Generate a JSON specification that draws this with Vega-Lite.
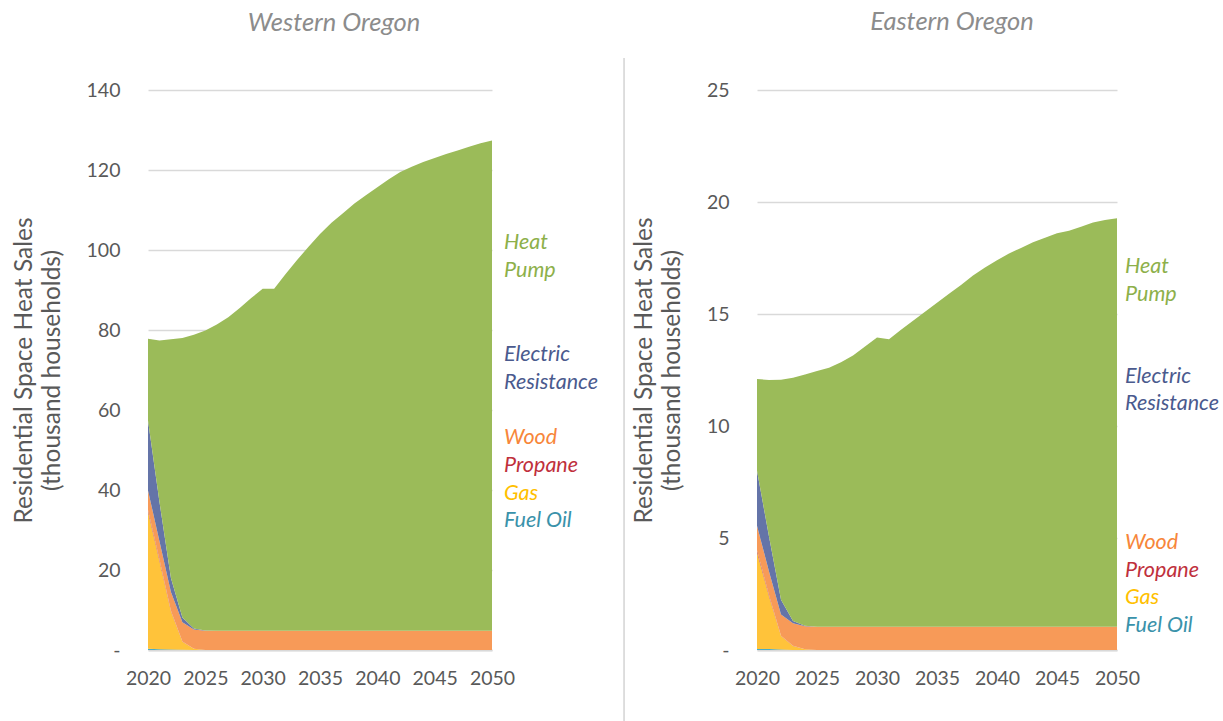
{
  "$schema": "https://vega.github.io/schema/vega-lite/v6.json",
  "background": "white",
  "padding": {"left": 11, "top": 9, "right": 5, "bottom": 0},
  "config": {
    "view": {"stroke": null},
    "font": "Lato",
    "concat": {"spacing": 265},
    "axis": {"labelFont": "Lato", "labelFontSize": 19.5, "labelColor": "#595959", "titleFont": "Lato", "titleFontSize": 24.5, "titleColor": "#595959", "titleFontWeight": "normal", "ticks": false, "domain": false, "grid": false},
    "axisY": {"grid": true, "gridColor": "#000000", "gridOpacity": 0.15, "gridWidth": 1.5, "labelPadding": 28, "zindex": 1, "titlePadding": 22, "titleLineHeight": 28},
    "axisX": {"domain": true, "domainColor": "#d9d9d9", "domainWidth": 2, "labelPadding": 19, "labelFlush": false, "labelOverlap": false},
    "title": {"font": "Lato", "fontSize": 25.5, "fontStyle": "italic", "fontWeight": "normal", "color": "#8c8c8c"}
  },
  "datasets": {
    "fuels": [
      {"fuel": "Fuel Oil", "rank": 1},
      {"fuel": "Gas", "rank": 2},
      {"fuel": "Propane", "rank": 3},
      {"fuel": "Wood", "rank": 4},
      {"fuel": "Electric Resistance", "rank": 5},
      {"fuel": "Heat Pump", "rank": 6}
    ],
    "west": [
      {"year": 2020, "Fuel Oil": 0.3, "Gas": 34.2, "Propane": 0.5, "Wood": 4.9, "Electric Resistance": 17.5, "Heat Pump": 20.4},
      {"year": 2021, "Fuel Oil": 0.2, "Gas": 22.0, "Propane": 0.4, "Wood": 4.6, "Electric Resistance": 9.8, "Heat Pump": 40.4},
      {"year": 2022, "Fuel Oil": 0.1, "Gas": 9.5, "Propane": 0.2, "Wood": 4.7, "Electric Resistance": 3.5, "Heat Pump": 59.7},
      {"year": 2023, "Fuel Oil": 0.05, "Gas": 2.0, "Propane": 0.1, "Wood": 4.8, "Electric Resistance": 1.2, "Heat Pump": 69.85},
      {"year": 2024, "Fuel Oil": 0, "Gas": 0.3, "Propane": 0, "Wood": 4.8, "Electric Resistance": 0.3, "Heat Pump": 73.4},
      {"year": 2025, "Fuel Oil": 0, "Gas": 0, "Propane": 0, "Wood": 4.8, "Electric Resistance": 0.05, "Heat Pump": 75.05},
      {"year": 2026, "Fuel Oil": 0, "Gas": 0, "Propane": 0, "Wood": 4.8, "Electric Resistance": 0, "Heat Pump": 76.6},
      {"year": 2027, "Fuel Oil": 0, "Gas": 0, "Propane": 0, "Wood": 4.8, "Electric Resistance": 0, "Heat Pump": 78.4},
      {"year": 2028, "Fuel Oil": 0, "Gas": 0, "Propane": 0, "Wood": 4.8, "Electric Resistance": 0, "Heat Pump": 80.7},
      {"year": 2029, "Fuel Oil": 0, "Gas": 0, "Propane": 0, "Wood": 4.8, "Electric Resistance": 0, "Heat Pump": 83.2},
      {"year": 2030, "Fuel Oil": 0, "Gas": 0, "Propane": 0, "Wood": 4.8, "Electric Resistance": 0, "Heat Pump": 85.5},
      {"year": 2031, "Fuel Oil": 0, "Gas": 0, "Propane": 0, "Wood": 4.8, "Electric Resistance": 0, "Heat Pump": 85.5},
      {"year": 2032, "Fuel Oil": 0, "Gas": 0, "Propane": 0, "Wood": 4.8, "Electric Resistance": 0, "Heat Pump": 89.2},
      {"year": 2033, "Fuel Oil": 0, "Gas": 0, "Propane": 0, "Wood": 4.8, "Electric Resistance": 0, "Heat Pump": 92.7},
      {"year": 2034, "Fuel Oil": 0, "Gas": 0, "Propane": 0, "Wood": 4.8, "Electric Resistance": 0, "Heat Pump": 96.0},
      {"year": 2035, "Fuel Oil": 0, "Gas": 0, "Propane": 0, "Wood": 4.8, "Electric Resistance": 0, "Heat Pump": 99.2},
      {"year": 2036, "Fuel Oil": 0, "Gas": 0, "Propane": 0, "Wood": 4.8, "Electric Resistance": 0, "Heat Pump": 102.0},
      {"year": 2037, "Fuel Oil": 0, "Gas": 0, "Propane": 0, "Wood": 4.8, "Electric Resistance": 0, "Heat Pump": 104.4},
      {"year": 2038, "Fuel Oil": 0, "Gas": 0, "Propane": 0, "Wood": 4.8, "Electric Resistance": 0, "Heat Pump": 106.8},
      {"year": 2039, "Fuel Oil": 0, "Gas": 0, "Propane": 0, "Wood": 4.8, "Electric Resistance": 0, "Heat Pump": 108.9},
      {"year": 2040, "Fuel Oil": 0, "Gas": 0, "Propane": 0, "Wood": 4.8, "Electric Resistance": 0, "Heat Pump": 110.9},
      {"year": 2041, "Fuel Oil": 0, "Gas": 0, "Propane": 0, "Wood": 4.8, "Electric Resistance": 0, "Heat Pump": 112.9},
      {"year": 2042, "Fuel Oil": 0, "Gas": 0, "Propane": 0, "Wood": 4.8, "Electric Resistance": 0, "Heat Pump": 114.7},
      {"year": 2043, "Fuel Oil": 0, "Gas": 0, "Propane": 0, "Wood": 4.8, "Electric Resistance": 0, "Heat Pump": 116.0},
      {"year": 2044, "Fuel Oil": 0, "Gas": 0, "Propane": 0, "Wood": 4.8, "Electric Resistance": 0, "Heat Pump": 117.2},
      {"year": 2045, "Fuel Oil": 0, "Gas": 0, "Propane": 0, "Wood": 4.8, "Electric Resistance": 0, "Heat Pump": 118.2},
      {"year": 2046, "Fuel Oil": 0, "Gas": 0, "Propane": 0, "Wood": 4.8, "Electric Resistance": 0, "Heat Pump": 119.2},
      {"year": 2047, "Fuel Oil": 0, "Gas": 0, "Propane": 0, "Wood": 4.8, "Electric Resistance": 0, "Heat Pump": 120.1},
      {"year": 2048, "Fuel Oil": 0, "Gas": 0, "Propane": 0, "Wood": 4.8, "Electric Resistance": 0, "Heat Pump": 121.0},
      {"year": 2049, "Fuel Oil": 0, "Gas": 0, "Propane": 0, "Wood": 4.8, "Electric Resistance": 0, "Heat Pump": 121.9},
      {"year": 2050, "Fuel Oil": 0, "Gas": 0, "Propane": 0, "Wood": 4.8, "Electric Resistance": 0, "Heat Pump": 122.6}
    ],
    "east": [
      {"year": 2020, "Fuel Oil": 0.05, "Gas": 4.3, "Propane": 0.1, "Wood": 1.1, "Electric Resistance": 2.45, "Heat Pump": 4.1},
      {"year": 2021, "Fuel Oil": 0.04, "Gas": 2.35, "Propane": 0.07, "Wood": 1.04, "Electric Resistance": 1.57, "Heat Pump": 6.98},
      {"year": 2022, "Fuel Oil": 0.02, "Gas": 0.6, "Propane": 0.02, "Wood": 0.95, "Electric Resistance": 0.65, "Heat Pump": 9.83},
      {"year": 2023, "Fuel Oil": 0, "Gas": 0.18, "Propane": 0.01, "Wood": 1.0, "Electric Resistance": 0.1, "Heat Pump": 10.86},
      {"year": 2024, "Fuel Oil": 0, "Gas": 0.03, "Propane": 0, "Wood": 1.03, "Electric Resistance": 0.02, "Heat Pump": 11.22},
      {"year": 2025, "Fuel Oil": 0, "Gas": 0, "Propane": 0, "Wood": 1.04, "Electric Resistance": 0, "Heat Pump": 11.41},
      {"year": 2026, "Fuel Oil": 0, "Gas": 0, "Propane": 0, "Wood": 1.04, "Electric Resistance": 0, "Heat Pump": 11.56},
      {"year": 2027, "Fuel Oil": 0, "Gas": 0, "Propane": 0, "Wood": 1.04, "Electric Resistance": 0, "Heat Pump": 11.81},
      {"year": 2028, "Fuel Oil": 0, "Gas": 0, "Propane": 0, "Wood": 1.04, "Electric Resistance": 0, "Heat Pump": 12.11},
      {"year": 2029, "Fuel Oil": 0, "Gas": 0, "Propane": 0, "Wood": 1.04, "Electric Resistance": 0, "Heat Pump": 12.51},
      {"year": 2030, "Fuel Oil": 0, "Gas": 0, "Propane": 0, "Wood": 1.04, "Electric Resistance": 0, "Heat Pump": 12.91},
      {"year": 2031, "Fuel Oil": 0, "Gas": 0, "Propane": 0, "Wood": 1.04, "Electric Resistance": 0, "Heat Pump": 12.83},
      {"year": 2032, "Fuel Oil": 0, "Gas": 0, "Propane": 0, "Wood": 1.04, "Electric Resistance": 0, "Heat Pump": 13.26},
      {"year": 2033, "Fuel Oil": 0, "Gas": 0, "Propane": 0, "Wood": 1.04, "Electric Resistance": 0, "Heat Pump": 13.66},
      {"year": 2034, "Fuel Oil": 0, "Gas": 0, "Propane": 0, "Wood": 1.04, "Electric Resistance": 0, "Heat Pump": 14.06},
      {"year": 2035, "Fuel Oil": 0, "Gas": 0, "Propane": 0, "Wood": 1.04, "Electric Resistance": 0, "Heat Pump": 14.46},
      {"year": 2036, "Fuel Oil": 0, "Gas": 0, "Propane": 0, "Wood": 1.04, "Electric Resistance": 0, "Heat Pump": 14.86},
      {"year": 2037, "Fuel Oil": 0, "Gas": 0, "Propane": 0, "Wood": 1.04, "Electric Resistance": 0, "Heat Pump": 15.26},
      {"year": 2038, "Fuel Oil": 0, "Gas": 0, "Propane": 0, "Wood": 1.04, "Electric Resistance": 0, "Heat Pump": 15.68},
      {"year": 2039, "Fuel Oil": 0, "Gas": 0, "Propane": 0, "Wood": 1.04, "Electric Resistance": 0, "Heat Pump": 16.04},
      {"year": 2040, "Fuel Oil": 0, "Gas": 0, "Propane": 0, "Wood": 1.04, "Electric Resistance": 0, "Heat Pump": 16.36},
      {"year": 2041, "Fuel Oil": 0, "Gas": 0, "Propane": 0, "Wood": 1.04, "Electric Resistance": 0, "Heat Pump": 16.66},
      {"year": 2042, "Fuel Oil": 0, "Gas": 0, "Propane": 0, "Wood": 1.04, "Electric Resistance": 0, "Heat Pump": 16.91},
      {"year": 2043, "Fuel Oil": 0, "Gas": 0, "Propane": 0, "Wood": 1.04, "Electric Resistance": 0, "Heat Pump": 17.16},
      {"year": 2044, "Fuel Oil": 0, "Gas": 0, "Propane": 0, "Wood": 1.04, "Electric Resistance": 0, "Heat Pump": 17.36},
      {"year": 2045, "Fuel Oil": 0, "Gas": 0, "Propane": 0, "Wood": 1.04, "Electric Resistance": 0, "Heat Pump": 17.56},
      {"year": 2046, "Fuel Oil": 0, "Gas": 0, "Propane": 0, "Wood": 1.04, "Electric Resistance": 0, "Heat Pump": 17.68},
      {"year": 2047, "Fuel Oil": 0, "Gas": 0, "Propane": 0, "Wood": 1.04, "Electric Resistance": 0, "Heat Pump": 17.86},
      {"year": 2048, "Fuel Oil": 0, "Gas": 0, "Propane": 0, "Wood": 1.04, "Electric Resistance": 0, "Heat Pump": 18.04},
      {"year": 2049, "Fuel Oil": 0, "Gas": 0, "Propane": 0, "Wood": 1.04, "Electric Resistance": 0, "Heat Pump": 18.16},
      {"year": 2050, "Fuel Oil": 0, "Gas": 0, "Propane": 0, "Wood": 1.04, "Electric Resistance": 0, "Heat Pump": 18.23}
    ],
    "westLabels": [
      {"fuel": "Heat Pump", "text": "Heat", "pos": 101.75},
      {"fuel": "Heat Pump", "text": "Pump", "pos": 94.75},
      {"fuel": "Electric Resistance", "text": "Electric", "pos": 73.75},
      {"fuel": "Electric Resistance", "text": "Resistance", "pos": 66.75},
      {"fuel": "Wood", "text": "Wood", "pos": 53},
      {"fuel": "Propane", "text": "Propane", "pos": 46},
      {"fuel": "Gas", "text": "Gas", "pos": 39},
      {"fuel": "Fuel Oil", "text": "Fuel Oil", "pos": 32.25}
    ],
    "eastLabels": [
      {"fuel": "Heat Pump", "text": "Heat", "pos": 17.1},
      {"fuel": "Heat Pump", "text": "Pump", "pos": 15.86},
      {"fuel": "Electric Resistance", "text": "Electric", "pos": 12.17},
      {"fuel": "Electric Resistance", "text": "Resistance", "pos": 10.96},
      {"fuel": "Wood", "text": "Wood", "pos": 4.77},
      {"fuel": "Propane", "text": "Propane", "pos": 3.52},
      {"fuel": "Gas", "text": "Gas", "pos": 2.32},
      {"fuel": "Fuel Oil", "text": "Fuel Oil", "pos": 1.07}
    ]
  },
  "hconcat": [
    {
      "width": 344,
      "height": 560,
      "title": {"text": "Western Oregon", "dx": 14, "offset": 44},
      "layer": [
        {
          "data": {"name": "west"},
          "transform": [
            {"fold": ["Fuel Oil", "Gas", "Propane", "Wood", "Electric Resistance", "Heat Pump"], "as": ["fuel", "value"]},
            {"lookup": "fuel", "from": {"data": {"name": "fuels"}, "key": "fuel", "fields": ["rank"]}}
          ],
          "mark": {"type": "area", "interpolate": "linear"},
          "encoding": {
            "x": {"field": "year", "type": "quantitative", "scale": {"domain": [2020, 2050], "nice": false, "zero": false}, "axis": {"values": [2020, 2025, 2030, 2035, 2040, 2045, 2050], "format": "d", "title": null}},
            "y": {"field": "value", "type": "quantitative", "stack": "zero", "scale": {"domain": [0, 140], "nice": false}, "axis": {"values": [0, 20, 40, 60, 80, 100, 120, 140], "labelExpr": "datum.value == 0 ? '-' : datum.label", "titleLineHeight": 28, "title": ["Residential Space Heat Sales", "(thousand households)"]}},
            "color": {"field": "fuel", "type": "nominal", "scale": {"domain": ["Fuel Oil", "Gas", "Propane", "Wood", "Electric Resistance", "Heat Pump"], "range": ["#4bacc6", "#ffc33a", "#c0504d", "#f79a58", "#6474a8", "#9bbb59"]}, "legend": null},
            "order": {"field": "rank", "type": "quantitative", "sort": "ascending"}
          }
        },
        {
          "data": {"name": "westLabels"},
          "mark": {"type": "text", "align": "left", "baseline": "middle", "dx": 12, "font": "Lato", "fontSize": 21.5, "fontStyle": "italic"},
          "encoding": {
            "x": {"datum": 2050, "type": "quantitative"},
            "y": {"field": "pos", "type": "quantitative"},
            "text": {"field": "text"},
            "color": {"field": "fuel", "type": "nominal", "scale": {"domain": ["Heat Pump", "Electric Resistance", "Wood", "Propane", "Gas", "Fuel Oil"], "range": ["#8db04a", "#4a5a8e", "#f7863a", "#c0303c", "#ffc000", "#3a92aa"]}, "legend": null}
          }
        }
      ],
      "resolve": {"scale": {"color": "independent"}}
    },
    {
      "width": 360,
      "height": 560,
      "title": {"text": "Eastern Oregon", "dx": 15, "offset": 22},
      "layer": [
        {
          "data": {"name": "east"},
          "transform": [
            {"fold": ["Fuel Oil", "Gas", "Propane", "Wood", "Electric Resistance", "Heat Pump"], "as": ["fuel", "value"]},
            {"lookup": "fuel", "from": {"data": {"name": "fuels"}, "key": "fuel", "fields": ["rank"]}}
          ],
          "mark": {"type": "area", "interpolate": "linear"},
          "encoding": {
            "x": {"field": "year", "type": "quantitative", "scale": {"domain": [2020, 2050], "nice": false, "zero": false}, "axis": {"values": [2020, 2025, 2030, 2035, 2040, 2045, 2050], "format": "d", "title": null}},
            "y": {"field": "value", "type": "quantitative", "stack": "zero", "scale": {"domain": [0, 25], "nice": false}, "axis": {"values": [0, 5, 10, 15, 20, 25], "labelExpr": "datum.value == 0 ? '-' : datum.label", "titleLineHeight": 28, "title": ["Residential Space Heat Sales", "(thousand households)"]}},
            "color": {"field": "fuel", "type": "nominal", "scale": {"domain": ["Fuel Oil", "Gas", "Propane", "Wood", "Electric Resistance", "Heat Pump"], "range": ["#4bacc6", "#ffc33a", "#c0504d", "#f79a58", "#6474a8", "#9bbb59"]}, "legend": null},
            "order": {"field": "rank", "type": "quantitative", "sort": "ascending"}
          }
        },
        {
          "data": {"name": "eastLabels"},
          "mark": {"type": "text", "align": "left", "baseline": "middle", "dx": 8, "font": "Lato", "fontSize": 21.5, "fontStyle": "italic"},
          "encoding": {
            "x": {"datum": 2050, "type": "quantitative"},
            "y": {"field": "pos", "type": "quantitative"},
            "text": {"field": "text"},
            "color": {"field": "fuel", "type": "nominal", "scale": {"domain": ["Heat Pump", "Electric Resistance", "Wood", "Propane", "Gas", "Fuel Oil"], "range": ["#8db04a", "#4a5a8e", "#f7863a", "#c0303c", "#ffc000", "#3a92aa"]}, "legend": null}
          }
        },
        {
          "data": {"values": [{}]},
          "mark": {"type": "rule", "color": "#c8c8c8", "strokeWidth": 1.2, "clip": false},
          "encoding": {
            "x": {"datum": 2008.92, "type": "quantitative", "scale": {"domain": [2020, 2050], "nice": false, "zero": false}},
            "y": {"datum": -3.2, "type": "quantitative", "scale": {"domain": [0, 25], "nice": false}},
            "y2": {"datum": 26.43}
          }
        }
      ],
      "resolve": {"scale": {"color": "independent"}}
    }
  ],
  "bounds": "flush"
}
